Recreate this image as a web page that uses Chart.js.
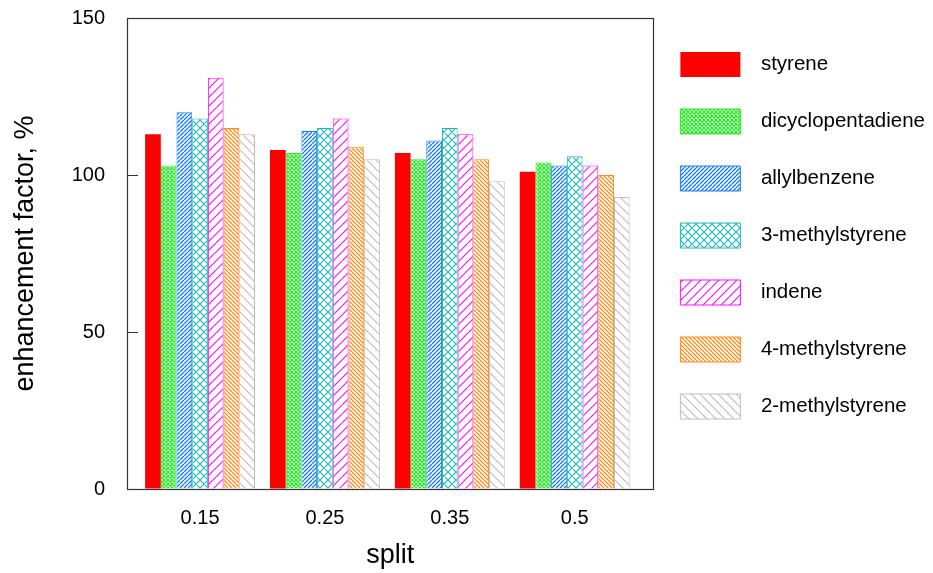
<!DOCTYPE html>
<html>
<head>
<meta charset="utf-8">
<script src="https://cdn.jsdelivr.net/npm/chart.js@4/dist/chart.umd.min.js"></script>
<style>
  html, body { margin: 0; padding: 0; background: #fff; }
  canvas { display: block; }
</style>
</head>
<body>
<canvas id="c" width="933" height="573"></canvas>
<script>
// ---- data ----
const categories = ['0.15', '0.25', '0.35', '0.5'];
const seriesNames = ['styrene', 'dicyclopentadiene', 'allylbenzene', '3-methylstyrene', 'indene', '4-methylstyrene', '2-methylstyrene'];
const styrene = [113, 108, 107, 101];
const dicyclopentadiene = [103, 107, 105, 104];
const allylbenzene = [120, 114, 111, 103];
const methylstyrene3 = [118, 115, 115, 106];
const indene = [131, 118, 113, 103];
const methylstyrene4 = [115, 109, 105, 100];
const methylstyrene2 = [113, 105, 98, 93];
const yTicks = [0, 50, 100, 150];
const xTitle = 'split';
const yTitle = 'enhancement factor, %';

// ---- styles ----
function hatch(color, p, dirs, lw) {
  const c = document.createElement('canvas');
  c.width = p; c.height = p;
  const g = c.getContext('2d');
  g.fillStyle = '#fff';
  g.fillRect(0, 0, p, p);
  g.strokeStyle = color;
  g.lineWidth = lw;
  g.beginPath();
  for (const d of dirs) {
    for (let k = -1; k <= 1; k++) {
      if (d === '/') { g.moveTo(k * p, p); g.lineTo(k * p + p, 0); }
      else { g.moveTo(k * p, 0); g.lineTo(k * p + p, p); }
    }
  }
  g.stroke();
  return g.createPattern(c, 'repeat');
}
const styles = [
  { color: '#ff0000', fill: '#ff0000', bw: 0 },
  { color: '#22ee22', fill: hatch('#22ee22', 4, ['/', '\\'], 1.3), bw: 1 },
  { color: '#1a80f0', fill: hatch('#1a80f0', 4, ['/'], 1.4), bw: 1 },
  { color: '#1fb8b8', fill: hatch('#1fb8b8', 8, ['/', '\\'], 1.2), bw: 1 },
  { color: '#ff10ff', fill: hatch('#ff10ff', 9, ['/'], 1.2), bw: 1 },
  { color: '#ff8c1a', fill: hatch('#ff8c1a', 4, ['\\'], 1.3), bw: 1 },
  { color: '#bdbdbd', fill: hatch('#bdbdbd', 9, ['\\'], 1.2), bw: 1 }
];
const seriesValues = [styrene, dicyclopentadiene, allylbenzene, methylstyrene3, indene, methylstyrene4, methylstyrene2];

const datasets = seriesNames.map((name, s) => ({
  label: name,
  data: seriesValues[s].map((v, i) => ({ x: i, y: v })),
  backgroundColor: styles[s].fill,
  borderColor: styles[s].color,
  borderWidth: styles[s].bw,
  borderSkipped: 'start',
  categoryPercentage: 0.88,
  barPercentage: 1.0
}));

const FONT = 'Liberation Sans, Arial, Helvetica, sans-serif';

const framePlugin = {
  id: 'frame',
  afterLayout(chart) {
    const lg = chart.legend;
    if (lg) { lg.left -= 5; lg.right -= 5; lg.top += 2; lg.bottom += 2; }
  },
  afterDatasetsDraw(chart) {
    const { ctx, chartArea: a, scales } = chart;
    ctx.save();
    ctx.strokeStyle = '#333';
    ctx.lineWidth = 1.2;
    ctx.beginPath();
    scales.y.ticks.forEach(t => {
      const y = Math.round(scales.y.getPixelForValue(t.value)) + 0.5;
      ctx.moveTo(a.left, y); ctx.lineTo(a.left + 11, y);
    });
    ctx.stroke();
    ctx.strokeRect(Math.round(a.left) + 0.5, Math.round(a.top) + 0.5, Math.round(a.right - a.left), Math.round(a.bottom - a.top));
    ctx.restore();
  }
};

new Chart(document.getElementById('c'), {
  type: 'bar',
  data: { datasets },
  plugins: [framePlugin],
  options: {
    responsive: false,
    animation: false,
    devicePixelRatio: 1,
    layout: { padding: { left: 0, right: -7, top: 18, bottom: 0 } },
    plugins: {
      tooltip: { enabled: false },
      legend: {
        position: 'right',
        align: 'start',
        maxWidth: 420,
        labels: {
          boxWidth: 60,
          boxHeight: 25,
          padding: 32,
          color: '#000',
          font: { family: FONT, size: 20.5 },
          generateLabels(chart) {
            return Chart.defaults.plugins.legend.labels.generateLabels(chart).map(it => {
              it.text = '\u2002' + it.text;
              return it;
            });
          }
        }
      }
    },
    scales: {
      x: {
        type: 'linear',
        min: -0.585,
        max: 3.63,
        offset: false,
        grid: { display: true, drawOnChartArea: false, drawTicks: true, tickLength: 17, color: 'rgba(0,0,0,0)' },
        border: { display: false },
        afterBuildTicks(scale) { scale.ticks = categories.map((c, i) => ({ value: i })); },
        afterFit(scale) { scale.height = 84; },
        ticks: {
          padding: 0,
          color: '#000',
          font: { family: FONT, size: 20 },
          callback: (v) => categories[v]
        },
        title: {
          display: true,
          text: xTitle,
          color: '#000',
          font: { family: FONT, size: 27 },
          padding: { top: 0, bottom: 1 }
        }
      },
      y: {
        min: 0,
        max: 150,
        grid: { display: true, drawOnChartArea: false, drawTicks: true, tickLength: 22, color: 'rgba(0,0,0,0)' },
        border: { display: false },
        afterBuildTicks(scale) { scale.ticks = yTicks.map(v => ({ value: v })); },
        afterFit(scale) { scale.width = 127; },
        ticks: {
          padding: 0,
          color: '#000',
          font: { family: FONT, size: 20 }
        },
        title: {
          display: true,
          text: yTitle,
          color: '#000',
          font: { family: FONT, size: 27 },
          padding: { top: 9, bottom: 0 }
        }
      }
    }
  }
});
</script>
</body>
</html>
